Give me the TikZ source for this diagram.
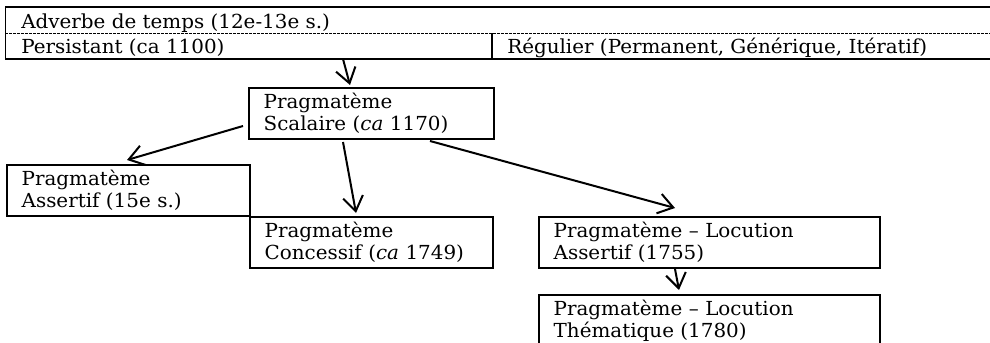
\documentclass[tikz,border=0pt]{standalone}
\usepackage{fontspec}
\setmainfont{DejaVu Serif}[FakeStretch=1.03]
\usetikzlibrary{arrows.meta, calc}
\definecolor{inkdark}{RGB}{0, 0, 0}

\tikzset{
    pbox/.style={draw=inkdark, line width=1.5pt, anchor=north west, align=left,
        inner xsep=11pt, inner ysep=0pt, minimum height=38.25pt,
        font=\fontsize{14.5}{16.5}\selectfont},
    celltext/.style={anchor=base west, inner sep=0pt, font=\fontsize{14.5}{16.5}\selectfont},
    evol/.style={-{Straight Barb[length=11pt, width=15pt, line width=1.5pt]}, line width=1.5pt, inkdark}
}

\begin{document}
\begin{tikzpicture}[x=0.75pt, y=-0.75pt]
    % one unit = one pixel of the 990 x 343 frame
    \clip (0, 0) rectangle (990, 343);

    % ----------------------------------------------------
    % Header table: adverb with its two readings
    % ----------------------------------------------------
    \draw[line width=2pt] (5, 7) -- (990, 7);
    \draw[line width=0.75pt] (5, 7) -- (5, 59);
    \draw[line width=0.6pt, dash pattern=on 2pt off 1pt] (5, 33) -- (990, 33);
    \draw[line width=1.2pt] (5, 59) -- (990, 59);
    \draw[line width=1.2pt] (492, 33) -- (492, 59);

    \node[celltext] (adverbe) at (21, 28) {Adverbe de temps (12e-13e s.)};
    \node[celltext] (persistant) at (21, 53) {Persistant (ca 1100)};
    \node[celltext] (regulier) at (507, 53) {Régulier (Permanent, Générique, Itératif)};
    \coordinate (tabfoot) at (343, 59);

    % ----------------------------------------------------
    % Pragmatemes
    % ----------------------------------------------------
    \node[pbox, text width=161.75pt] (scalaire) at (248, 87)
        {Pragmatème\\Scalaire (\textit{ca} 1170)};
    \node[pbox, text width=160.25pt] (assertif) at (6, 164)
        {Pragmatème\\Assertif (15e s.)};
    \node[pbox, text width=160.25pt] (concessif) at (249, 216)
        {Pragmatème\\Concessif (\textit{ca} 1749)};
    \node[pbox, text width=233.75pt] (locution) at (538, 216)
        {Pragmatème – Locution\\Assertif (1755)};
    \node[pbox, text width=233.75pt] (thematique) at (538, 294)
        {Pragmatème – Locution\\Thématique (1780)};

    % ----------------------------------------------------
    % Derivations
    % ----------------------------------------------------
    \draw[evol] (tabfoot) -- ($(scalaire.north west)+(102, -2)$);
    \draw[evol] ($(scalaire.north west)+(-5, 39)$) -- ($(assertif.north west)+(121, -4)$);
    \draw[evol] ($(scalaire.south west)+(95, 2)$) -- ($(concessif.north west)+(107, -3)$);
    \draw[evol] ($(scalaire.south west)+(182, 1)$) -- ($(locution.north west)+(137, -8)$);
    \draw[evol] ($(locution.south west)+(137, 0)$) -- ($(thematique.north west)+(141, -4)$);

\end{tikzpicture}
\end{document}
